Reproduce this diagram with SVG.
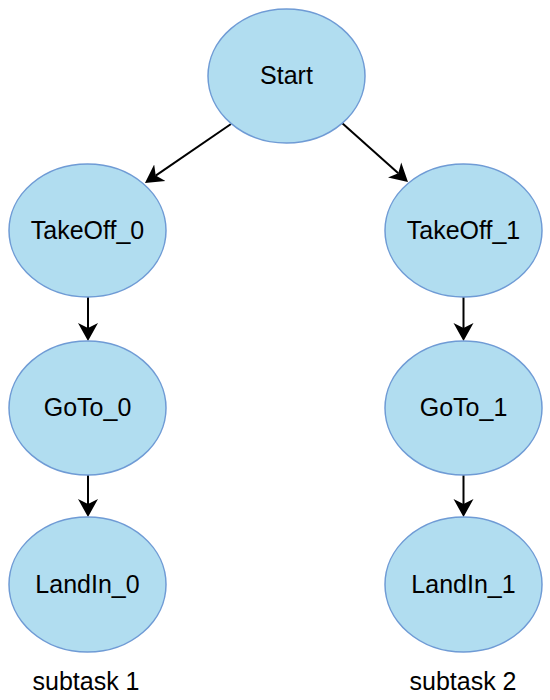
<svg xmlns="http://www.w3.org/2000/svg" width="550" height="700" viewBox="0 0 550 700">
<style>
.node{fill:#b1ddf0;stroke:#6f9bd5;stroke-width:1.5}
.lbl{font-family:"Liberation Sans",Arial,sans-serif;font-size:25px;fill:#000;text-anchor:middle}
.edge{stroke:#000;stroke-width:2;fill:none;marker-end:url(#arr)}
</style>
<defs>
<marker id="arr" markerUnits="userSpaceOnUse" markerWidth="22" markerHeight="22" viewBox="0 -11 22 22" refX="5" refY="0" orient="auto">
<path d="M0,-10 L18,0 L0,10 L5,0 Z" fill="#000"/>
</marker>
</defs>
<rect width="550" height="700" fill="#fff"/>
<g id="edges">
<line class="edge" x1="231" y1="124" x2="155.7" y2="175.6"/>
<line class="edge" x1="342" y1="123" x2="398.3" y2="173.3"/>
<line class="edge" x1="88" y1="297" x2="88" y2="328"/>
<line class="edge" x1="88" y1="475" x2="88" y2="504"/>
<line class="edge" x1="463.5" y1="297" x2="463.5" y2="328"/>
<line class="edge" x1="463.5" y1="475" x2="463.5" y2="504"/>
</g>
<g id="start"><ellipse class="node" cx="286.5" cy="76" rx="78.5" ry="67"/><text class="lbl" x="286.5" y="84">Start</text></g>
<g id="takeoff0"><ellipse class="node" cx="87.5" cy="230.5" rx="78.5" ry="66.5"/><text class="lbl" x="87.5" y="239">TakeOff_0</text></g>
<g id="takeoff1"><ellipse class="node" cx="463.5" cy="230.5" rx="78.5" ry="66.5"/><text class="lbl" x="463.5" y="239">TakeOff_1</text></g>
<g id="goto0"><ellipse class="node" cx="87.5" cy="408" rx="78.5" ry="67"/><text class="lbl" x="87.5" y="416">GoTo_0</text></g>
<g id="goto1"><ellipse class="node" cx="463.5" cy="408" rx="78.5" ry="67"/><text class="lbl" x="463.5" y="416">GoTo_1</text></g>
<g id="landin0"><ellipse class="node" cx="87.5" cy="584.5" rx="78.5" ry="67.5"/><text class="lbl" x="87.5" y="592.5">LandIn_0</text></g>
<g id="landin1"><ellipse class="node" cx="463.5" cy="584.5" rx="78.5" ry="67.5"/><text class="lbl" x="463.5" y="592.5">LandIn_1</text></g>
<g id="captions">
<text class="lbl" x="86" y="690">subtask 1</text>
<text class="lbl" x="463" y="690">subtask 2</text>
</g>
</svg>
